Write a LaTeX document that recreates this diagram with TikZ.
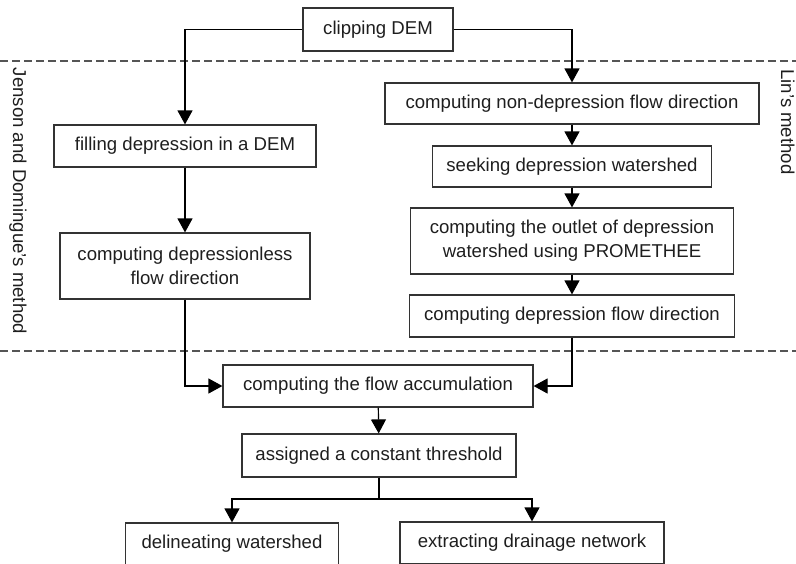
\documentclass[tikz,border=0pt]{standalone}
\usepackage{fontspec}
\setmainfont{Liberation Sans}
\usetikzlibrary{arrows.meta,positioning}

\definecolor{boxline}{HTML}{333333}
\definecolor{inktext}{HTML}{1E1E1E}
\definecolor{dashline}{HTML}{555555}

\begin{document}
\begin{tikzpicture}[x=1pt, y=-1pt]
  \tikzstyle{process}=[rectangle, draw=boxline, line width=1.2pt, text=inktext, minimum height=42pt, inner sep=2pt, align=center, font=\fontsize{18.6}{24}\selectfont]
  \tikzstyle{line} = [draw=black, line width=1.2pt, -{Triangle[length=14pt, width=15pt]}]
  \tikzstyle{plain} = [draw=black, line width=1.2pt]
  \tikzstyle{boundary} = [draw=dashline, line width=1.4pt, dash pattern=on 8pt off 4pt]
  \tikzstyle{method} = [rotate=-90, anchor=base, inner sep=0pt, text=inktext, font=\fontsize{18.6}{24}\selectfont]

  \useasboundingbox (0,0) rectangle (796,563);
  \clip (0,0) rectangle (796,563);

  % method borders
  \draw [boundary] (0,61) -- (796,61);
  \draw [boundary] (0,351) -- (796,351);
  \node [method] (jenson) at (13,201) {Jenson and Domingue's method};
  \node [method] (lin) at (781,122) {Lin's method};

  % top
  \node [process, minimum width=150pt, minimum height=43pt] (clip) at (378,29.5) {clipping DEM};

  % left branch
  \node [process, minimum width=262pt] (fill) at (185,146) {filling depression in a DEM};
  \node [process, minimum width=250pt, minimum height=66pt] (depless) at (185,266) {
    computing depressionless\\
    flow direction
  };

  % right branch
  \node [process, minimum width=374pt, minimum height=41pt] (nondep) at (572,103.5) {computing non-depression flow direction};
  \node [process, minimum width=279pt, minimum height=41pt] (seeking) at (572,166.5) {seeking depression watershed};
  \node [process, minimum width=323pt, minimum height=66pt] (outlet) at (572,241) {
    computing the outlet of depression\\
    watershed using PROMETHEE
  };
  \node [process, minimum width=325pt] (depflow) at (572,316) {computing depression flow direction};

  % common part
  \node [process, minimum width=310pt] (flowacc) at (378,386) {computing the flow accumulation};
  \node [process, minimum width=274pt, minimum height=43pt] (threshold) at (379,455.5) {assigned a constant threshold};
  \coordinate (fork) at (379,499);
  \node [process, minimum width=213pt] (delin) at (232,544) {delineating watershed};
  \node [process, minimum width=264pt] (extract) at (532,543) {extracting drainage network};

  \draw [line] (clip.west) -| (fill.north);
  \draw [line] (clip.east) -| (nondep.north);
  \draw [line] (fill) -- (depless);
  \draw [line] (depless.south) |- (flowacc.west);

  \draw [line] (nondep) -- (seeking);
  \draw [line] (seeking) -- (outlet);
  \draw [line] (outlet) -- (depflow);
  \draw [line] (depflow.south) |- (flowacc.east);

  \draw [line] (flowacc) -- (threshold);
  \draw [plain] (threshold.south) -- (fork);
  \draw [line] (fork) -| (delin.north);
  \draw [line] (fork) -| (extract.north);
\end{tikzpicture}
\end{document}
